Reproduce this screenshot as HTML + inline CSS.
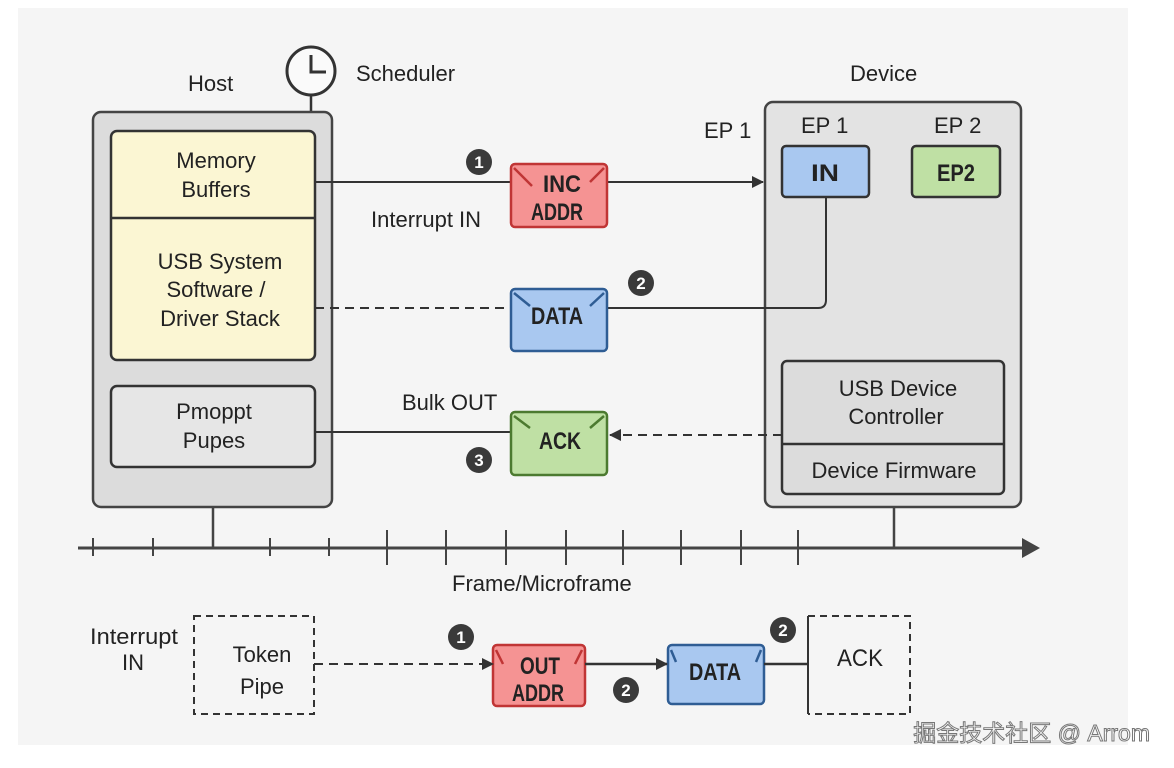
<!DOCTYPE html>
<html><head><meta charset="utf-8"><style>
body{margin:0;background:#fff;}
svg{display:block;font-family:"Liberation Sans","Noto Sans CJK SC",sans-serif;}
.t{font-size:22px;fill:#222;}
.m{font-family:"Liberation Sans Narrow","Liberation Sans",sans-serif;font-weight:bold;font-size:24px;fill:#222;}
</style></head><body>
<svg width="1174" height="768" viewBox="0 0 1174 768">
<defs><marker id="ah" markerWidth="12" markerHeight="12" refX="11" refY="6" orient="auto" markerUnits="userSpaceOnUse"><path d="M0,0 L12,6 L0,12z" fill="#333"/></marker></defs>
<rect x="18" y="8" width="1110" height="737" fill="#f5f5f5"/>
<text class="t" x="188" y="91">Host</text>
<circle cx="311" cy="71" r="24" fill="#fafafa" stroke="#333" stroke-width="3"/>
<path d="M311,55 V72 H326" fill="none" stroke="#333" stroke-width="3"/>
<line x1="311" y1="95" x2="311" y2="113" stroke="#333" stroke-width="2.5"/>
<text class="t" x="356" y="81">Scheduler</text>
<rect x="93" y="112" width="239" height="395" rx="8" fill="#dcdcdc" stroke="#444" stroke-width="2.5"/>
<rect x="111" y="131" width="204" height="229" rx="6" fill="#fbf6d3" stroke="#333" stroke-width="2.5"/>
<line x1="111" y1="218" x2="315" y2="218" stroke="#333" stroke-width="2.5"/>
<text class="t" text-anchor="middle" x="216" y="168">Memory</text>
<text class="t" text-anchor="middle" x="216" y="197">Buffers</text>
<text class="t" text-anchor="middle" x="220" y="269">USB System</text>
<text class="t" text-anchor="middle" x="216" y="297">Software /</text>
<text class="t" text-anchor="middle" x="220" y="326">Driver Stack</text>
<rect x="111" y="386" width="204" height="81" rx="6" fill="#e6e6e6" stroke="#333" stroke-width="2.5"/>
<text class="t" text-anchor="middle" x="214" y="419">Pmoppt</text>
<text class="t" text-anchor="middle" x="214" y="448">Pupes</text>
<text class="t" x="850" y="81">Device</text>
<text class="t" x="704" y="138">EP 1</text>
<rect x="765" y="102" width="256" height="405" rx="8" fill="#e3e3e3" stroke="#444" stroke-width="2.5"/>
<text class="t" x="801" y="133">EP 1</text>
<text class="t" x="934" y="133">EP 2</text>
<rect x="782" y="146" width="87" height="51" rx="4" fill="#a9c8f0" stroke="#333" stroke-width="2.5"/>
<text class="m" x="825" y="181" text-anchor="middle" textLength="28" lengthAdjust="spacingAndGlyphs">IN</text>
<rect x="912" y="146" width="88" height="51" rx="4" fill="#bfe0a4" stroke="#333" stroke-width="2.5"/>
<text class="m" x="956" y="181" text-anchor="middle" textLength="38" lengthAdjust="spacingAndGlyphs">EP2</text>
<rect x="782" y="361" width="222" height="133" rx="5" fill="#dcdcdc" stroke="#333" stroke-width="2.5"/>
<line x1="782" y1="444" x2="1004" y2="444" stroke="#333" stroke-width="2.5"/>
<text class="t" text-anchor="middle" x="898" y="396">USB Device</text>
<text class="t" text-anchor="middle" x="896" y="424">Controller</text>
<text class="t" text-anchor="middle" x="894" y="478">Device Firmware</text>
<line x1="315" y1="182" x2="511" y2="182" stroke="#333" stroke-width="2"/>
<line x1="607" y1="182" x2="763" y2="182" stroke="#333" stroke-width="2" marker-end="url(#ah)"/>
<line x1="315" y1="308" x2="511" y2="308" stroke="#333" stroke-width="2" stroke-dasharray="9,6"/>
<path d="M607,308 H818 Q826,308 826,300 V197" fill="none" stroke="#333" stroke-width="2"/>
<line x1="315" y1="432" x2="511" y2="432" stroke="#333" stroke-width="2"/>
<line x1="782" y1="435" x2="610" y2="435" stroke="#333" stroke-width="2" stroke-dasharray="9,6" marker-end="url(#ah)"/>
<text class="t" x="371" y="227">Interrupt IN</text>
<text class="t" x="402" y="410">Bulk OUT</text>
<g stroke-width="2.5">
<rect x="511" y="164" width="96" height="63" rx="4" fill="#f59393" stroke="#c03535"/>
<path d="M514,168 L532,186 M604,168 L590,182" stroke="#c03535" fill="none"/>
<rect x="511" y="289" width="96" height="62" rx="4" fill="#a9c8f0" stroke="#2f5d94"/>
<path d="M514,293 L530,306 M604,293 L590,306" stroke="#2f5d94" fill="none"/>
<rect x="511" y="412" width="96" height="63" rx="4" fill="#bfe0a4" stroke="#4c7a30"/>
<path d="M514,416 L530,428 M604,416 L590,428" stroke="#4c7a30" fill="none"/>
<rect x="493" y="645" width="92" height="61" rx="4" fill="#f59393" stroke="#c03535"/>
<path d="M496,650 L503,664 M582,650 L575,664" stroke="#c03535" fill="none"/>
<rect x="668" y="645" width="96" height="59" rx="4" fill="#a9c8f0" stroke="#2f5d94"/>
<path d="M671,650 L676,662 M761,650 L756,662" stroke="#2f5d94" fill="none"/>
</g>
<text class="m" x="562" y="192" text-anchor="middle" textLength="38" lengthAdjust="spacingAndGlyphs">INC</text>
<text class="m" x="557" y="220" text-anchor="middle" textLength="52" lengthAdjust="spacingAndGlyphs">ADDR</text>
<text class="m" x="557" y="324" text-anchor="middle" textLength="52" lengthAdjust="spacingAndGlyphs">DATA</text>
<text class="m" x="560" y="449" text-anchor="middle" textLength="42" lengthAdjust="spacingAndGlyphs">ACK</text>
<text class="m" x="540" y="674" text-anchor="middle" textLength="40" lengthAdjust="spacingAndGlyphs">OUT</text>
<text class="m" x="538" y="701" text-anchor="middle" textLength="52" lengthAdjust="spacingAndGlyphs">ADDR</text>
<text class="m" x="715" y="680" text-anchor="middle" textLength="52" lengthAdjust="spacingAndGlyphs">DATA</text>
<g font-size="17" font-weight="bold" fill="#fff" text-anchor="middle">
<circle cx="479" cy="162" r="13" fill="#3a3a3a"/><text x="479" y="168">1</text>
<circle cx="641" cy="283" r="13" fill="#3a3a3a"/><text x="641" y="289">2</text>
<circle cx="479" cy="460" r="13" fill="#3a3a3a"/><text x="479" y="466">3</text>
<circle cx="461" cy="637" r="13" fill="#3a3a3a"/><text x="461" y="643">1</text>
<circle cx="626" cy="690" r="13" fill="#3a3a3a"/><text x="626" y="696">2</text>
<circle cx="783" cy="630" r="13" fill="#3a3a3a"/><text x="783" y="636">2</text>
</g>
<line x1="78" y1="548" x2="1028" y2="548" stroke="#444" stroke-width="3"/>
<path d="M1022,538 L1040,548 L1022,558z" fill="#444"/>
<g stroke="#444" stroke-width="2">
<line x1="93" y1="538" x2="93" y2="556"/><line x1="153" y1="538" x2="153" y2="556"/>
<line x1="213" y1="507" x2="213" y2="548" stroke-width="2.5"/>
<line x1="270" y1="538" x2="270" y2="556"/><line x1="329" y1="538" x2="329" y2="556"/>
<line x1="387" y1="530" x2="387" y2="565"/><line x1="446" y1="530" x2="446" y2="565"/>
<line x1="506" y1="530" x2="506" y2="565"/><line x1="566" y1="530" x2="566" y2="565"/>
<line x1="623" y1="530" x2="623" y2="565"/><line x1="681" y1="530" x2="681" y2="565"/>
<line x1="741" y1="530" x2="741" y2="565"/><line x1="798" y1="530" x2="798" y2="565"/>
<line x1="894" y1="507" x2="894" y2="548" stroke-width="2.5"/>
</g>
<text class="t" x="452" y="591">Frame/Microframe</text>
<text class="t" x="134" y="644" text-anchor="middle" textLength="88" lengthAdjust="spacingAndGlyphs">Interrupt</text>
<text class="t" x="133" y="670" text-anchor="middle">IN</text>
<rect x="194" y="616" width="120" height="98" fill="none" stroke="#333" stroke-width="2" stroke-dasharray="7,5"/>
<text class="t" x="262" y="662" text-anchor="middle">Token</text>
<text class="t" x="262" y="694" text-anchor="middle">Pipe</text>
<line x1="314" y1="664" x2="493" y2="664" stroke="#333" stroke-width="2" stroke-dasharray="9,6" marker-end="url(#ah)"/>
<line x1="585" y1="664" x2="667" y2="664" stroke="#333" stroke-width="2.5" marker-end="url(#ah)"/>
<line x1="764" y1="664" x2="808" y2="664" stroke="#333" stroke-width="2.5"/>
<path d="M808,616 V714" stroke="#333" stroke-width="2"/>
<path d="M808,616 H910 V714 H808" fill="none" stroke="#333" stroke-width="2" stroke-dasharray="7,5"/>
<text x="860" y="666" text-anchor="middle" font-size="24" fill="#222" textLength="46" lengthAdjust="spacingAndGlyphs">ACK</text>
<text x="1150" y="741" text-anchor="end" font-size="23" fill="#fff" stroke="#777" stroke-width="1">掘金技术社区 @ Arrom</text>
</svg>
</body></html>
